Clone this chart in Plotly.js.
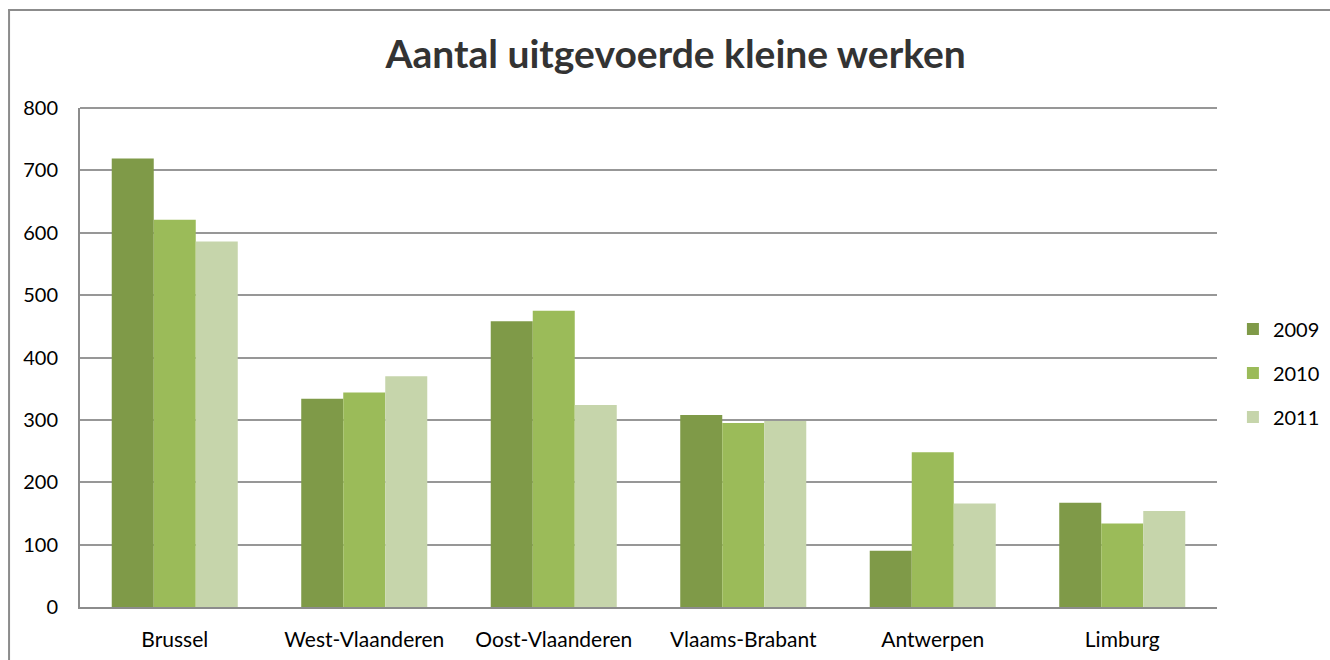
<!DOCTYPE html>
<html>
<head>
<meta charset="utf-8">
<script src="https://cdn.plot.ly/plotly-3.0.1.min.js"></script>
<style>
  html, body { margin: 0; padding: 0; background: #ffffff; overflow: hidden; }
  #chart { width: 1330px; height: 660px; }
</style>
</head>
<body>
<div id="chart"></div>
<script>
const categories = ["Brussel", "West-Vlaanderen", "Oost-Vlaanderen", "Vlaams-Brabant", "Antwerpen", "Limburg"];
const seriesNames = ["2009", "2010", "2011"];
const values2009 = [719, 334, 458, 308, 90, 167];
const values2010 = [621, 344, 475, 295, 248, 134];
const values2011 = [586, 370, 324, 298, 166, 154];
const yTicks = [0, 100, 200, 300, 400, 500, 600, 700, 800];
const colors = ["#7f9a48", "#9bbb59", "#c6d5ab"];

const allValues = [values2009, values2010, values2011];
const font = "Lato, 'Open Sans', sans-serif";

const traces = allValues.map((vals, i) => ({
  type: "bar",
  name: seriesNames[i],
  x: categories,
  y: vals,
  legendgroup: "g" + i,
  marker: { color: colors[i], line: { width: 0 } },
  hoverinfo: "x+y+name"
}));

const layout = {
  width: 1330,
  height: 660,
  paper_bgcolor: "#ffffff",
  plot_bgcolor: "rgba(0,0,0,0)",
  margin: { l: 80, r: 113, t: 108, b: 53, autoexpand: false },
  title: {
    text: "<b>Aantal uitgevoerde kleine werken</b>",
    font: { family: font, size: 39, color: "#333333" },
    x: 0.508, xref: "container", xanchor: "center",
    y: 56, yref: "container", yanchor: "middle"
  },
  barmode: "group",
  bargap: 0.335,
  bargroupgap: 0,
  showlegend: true,
  legend: {
    x: 1.014, xanchor: "left", y: 0.469, yanchor: "middle",
    font: { family: font, size: 20, color: "#000000" },
    tracegroupgap: 15,
    itemwidth: 30,
    bgcolor: "rgba(0,0,0,0)"
  },
  xaxis: {
    type: "category",
    tickfont: { family: font, size: 21, color: "#000000" },
    showgrid: false,
    showline: true,
    linecolor: "#8c8c8c",
    linewidth: 2,
    ticks: "",
    ticklabelstandoff: 13
  },
  yaxis: {
    range: [0, 800],
    tickvals: yTicks,
    ticktext: yTicks.map(String),
    tickfont: { family: font, size: 20, color: "#000000" },
    showgrid: true,
    gridcolor: "#979797",
    gridwidth: 2,
    zeroline: false,
    showline: true,
    linecolor: "#8c8c8c",
    linewidth: 2,
    ticks: "",
    ticklabelstandoff: 16
  },
  shapes: [
    { type: "line", xref: "paper", yref: "paper", x0: 0, x1: 1, y0: 1, y1: 1,
      line: { color: "#979797", width: 2 }, layer: "below" },
    { type: "line", xref: "paper", yref: "paper", x0: -0.0624, x1: -0.0624, y0: -0.2, y1: 1.1964,
      line: { color: "#8c8c8c", width: 2 }, layer: "above" },
    { type: "line", xref: "paper", yref: "paper", x0: -0.0633, x1: 1.2, y0: 1.1964, y1: 1.1964,
      line: { color: "#8c8c8c", width: 2 }, layer: "above" }
  ]
};

Plotly.newPlot("chart", traces, layout, { displayModeBar: false });
</script>
</body>
</html>
